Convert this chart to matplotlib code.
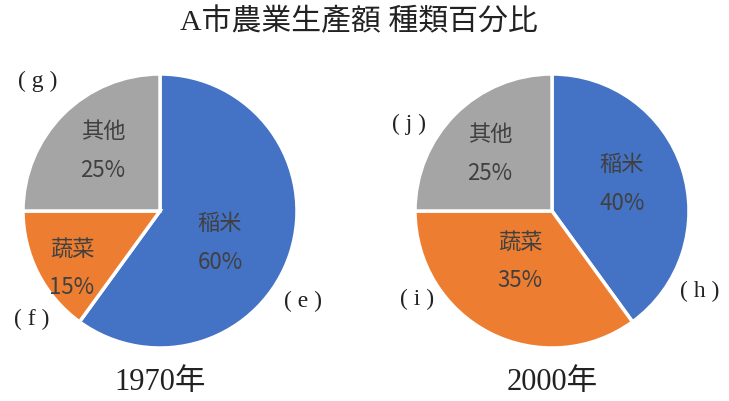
import matplotlib
matplotlib.use("Agg")
import matplotlib.pyplot as plt

plt.rcParams["font.family"] = ["Noto Sans CJK JP", "DejaVu Sans"]

title = "A市農業生產額 種類百分比"
categories = ["稲米", "蔬菜", "其他"]
colors = ["#4472C4", "#ED7D31", "#A5A5A5"]
years = ["1970年", "2000年"]
share_1970 = [60, 15, 25]
share_2000 = [40, 35, 25]
letters_1970 = ["e", "f", "g"]
letters_2000 = ["h", "i", "j"]

W, H = 729, 401
fig = plt.figure(figsize=(W / 100, H / 100), dpi=100)
ax = fig.add_axes([0, 0, 1, 1])

serif = ["Liberation Serif", "Noto Sans CJK JP"]


def py(y):
    # pixel row from top -> data y
    return H - y


pies = [
    (share_1970, letters_1970, years[0], (160, 211),
     [(220, 243), (72, 268), (103, 151)],
     [(303, 301), (32, 319), (38, 81)]),
    (share_2000, letters_2000, years[1], (552, 211),
     [(622, 184), (520, 261), (490, 154)],
     [(700, 291), (417, 299), (409, 124)]),
]

radius = 137
for values, letters, year, (cx, cy), inner, outer in pies:
    ax.pie(values, colors=colors, startangle=90, counterclock=False,
           center=(cx, py(cy)), radius=radius, frame=True,
           wedgeprops=dict(edgecolor="white", linewidth=2.5))
    for cat, v, (tx, ty) in zip(categories, values, inner):
        ax.text(tx, py(ty), f"{cat}\n{v}%", ha="center", va="center",
                fontsize=16, color="#404040", linespacing=1.85)
    for lab, (tx, ty) in zip(letters, outer):
        ax.text(tx, py(ty), f"( {lab} )", ha="center", va="center",
                fontsize=17, color="#222222", family=serif)
    ax.text(cx, py(382), year, ha="center", va="center", fontsize=22,
            color="#222222", family=serif)

ax.set_xlim(0, W)
ax.set_ylim(0, H)
ax.set_aspect("auto")
ax.axis("off")

fig.text(359 / W, 1 - 22 / H, title, ha="center", va="center",
         fontsize=21.5, color="#222222", family=serif)

fig.savefig("out.png", dpi=100)
